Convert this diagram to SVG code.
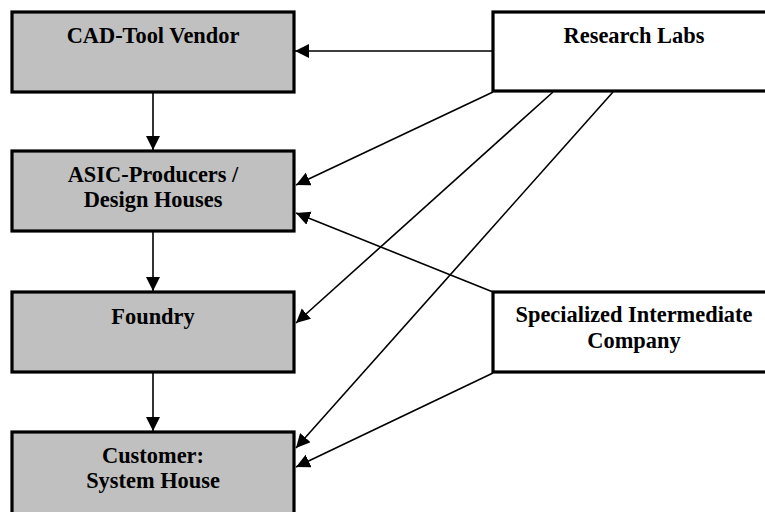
<svg xmlns="http://www.w3.org/2000/svg" width="765" height="512" viewBox="0 0 765 512">
<style>
.box{stroke:#000;stroke-width:3.2}
.grey{fill:#c0c0c0}
.white{fill:#fff}
.lbl{font-family:"Liberation Serif","Times New Roman",serif;font-weight:bold;font-size:22.4px;text-anchor:middle;fill:#000}
.conn line{stroke:#000;stroke-width:1.6;marker-end:url(#ah)}
</style>
<defs>
<marker id="ah" markerUnits="userSpaceOnUse" markerWidth="16" markerHeight="16" refX="14" refY="7" orient="auto">
<path d="M0,0 L14,7 L0,14 z" fill="#000"/>
</marker>
</defs>
<rect width="765" height="512" fill="#fff"/>
<g id="connectors" class="conn">
<line x1="153" y1="92" x2="153" y2="150"/>
<line x1="153" y1="232" x2="153" y2="291"/>
<line x1="153" y1="373" x2="153" y2="431"/>
<line x1="493" y1="51" x2="295" y2="51"/>
<line x1="493" y1="92" x2="296" y2="185"/>
<line x1="553" y1="92" x2="296" y2="323"/>
<line x1="613" y1="92" x2="296" y2="448"/>
<line x1="493" y1="292" x2="296" y2="213"/>
<line x1="493" y1="373" x2="296" y2="467"/>
</g>
<g id="cad-tool-vendor">
<rect class="box grey" x="12" y="12" width="282" height="80"/>
<text class="lbl" x="153" y="43">CAD-Tool Vendor</text>
</g>
<g id="asic-producers">
<rect class="box grey" x="12" y="151" width="282" height="80"/>
<text class="lbl" x="153" y="182">ASIC-Producers /</text>
<text class="lbl" x="153" y="207">Design Houses</text>
</g>
<g id="foundry">
<rect class="box grey" x="12" y="292" width="282" height="80"/>
<text class="lbl" x="153" y="324">Foundry</text>
</g>
<g id="customer">
<rect class="box grey" x="12" y="432" width="282" height="82"/>
<text class="lbl" x="153" y="463">Customer:</text>
<text class="lbl" x="153" y="488">System House</text>
</g>
<g id="research-labs">
<rect class="box white" x="493" y="12" width="282" height="79"/>
<text class="lbl" x="634" y="43">Research Labs</text>
</g>
<g id="specialized-intermediate">
<rect class="box white" x="493" y="292" width="282" height="80"/>
<text class="lbl" x="634" y="322">Specialized Intermediate</text>
<text class="lbl" x="634" y="348">Company</text>
</g>
</svg>
